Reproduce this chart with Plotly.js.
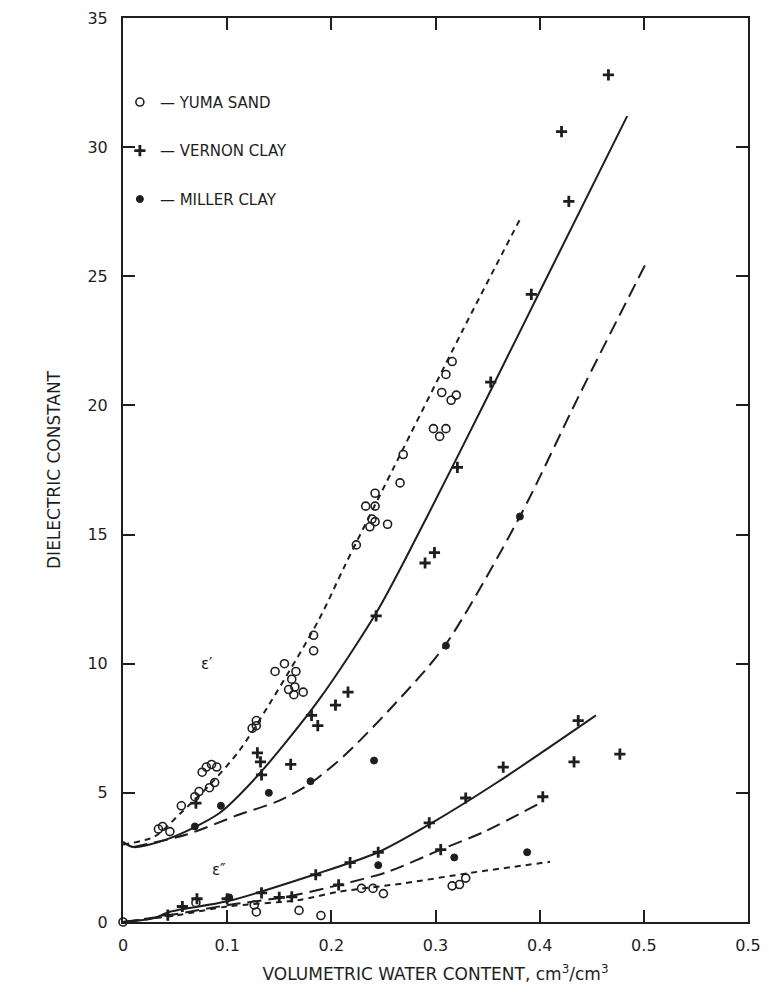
<!DOCTYPE html>
<html>
<head>
<meta charset="utf-8">
<script src="https://cdn.plot.ly/plotly-3.0.1.min.js"></script>
<style>html,body{margin:0;padding:0;background:#fff;}#chart{width:769px;height:1002px;}</style>
</head>
<body>
<div id="chart"></div>
<script>
// ---- Axis tick labels ----
const xTickVals = [0, 0.1, 0.2, 0.3, 0.4, 0.5, 0.6];
const xTickText = ["0", "0.1", "0.2", "0.3", "0.4", "0.5", "0.5"];
const yTickVals = [0, 5, 10, 15, 20, 25, 30, 35];

// ---- Series names ----
const seriesNames = ["YUMA SAND", "VERNON CLAY", "MILLER CLAY"];

// ---- Yuma sand measurements (open circles) ----
const yumaUpperX = [0.034,0.038,0.045,0.056,0.069,0.073,0.083,0.088,0.076,0.080,0.085,0.090,0.124,0.128,0.128,0.146,0.155,0.159,0.162,0.164,0.165,0.166,0.173,0.183,0.183,0.224,0.233,0.237,0.239,0.242,0.242,0.242,0.254,0.266,0.269,0.298,0.304,0.306,0.310,0.310,0.315,0.316,0.320];
const yumaUpperY = [3.6,3.7,3.5,4.5,4.85,5.05,5.2,5.4,5.8,6.0,6.1,6.0,7.5,7.6,7.8,9.7,10.0,9.0,9.4,8.8,9.1,9.7,8.9,10.5,11.1,14.6,16.1,15.3,15.6,15.5,16.1,16.6,15.4,17.0,18.1,19.1,18.8,20.5,19.1,21.2,20.2,21.7,20.4];
const yumaLowerX = [0.0,0.070,0.126,0.128,0.169,0.190,0.229,0.240,0.250,0.316,0.323,0.329];
const yumaLowerY = [0.0,0.75,0.66,0.39,0.45,0.25,1.3,1.3,1.1,1.4,1.45,1.7];

// ---- Vernon clay measurements (crosses) ----
const vernonUpperX = [0.070,0.129,0.132,0.133,0.161,0.181,0.187,0.204,0.216,0.243,0.290,0.299,0.321,0.353,0.392,0.421,0.428,0.466];
const vernonUpperY = [4.6,6.55,6.2,5.7,6.1,8.0,7.6,8.4,8.9,11.85,13.9,14.3,17.6,20.9,24.3,30.6,27.9,32.8];
const vernonLowerX = [0.043,0.057,0.071,0.100,0.133,0.150,0.162,0.185,0.207,0.218,0.245,0.294,0.305,0.329,0.365,0.403,0.433,0.437,0.477];
const vernonLowerY = [0.27,0.6,0.9,0.9,1.13,0.95,0.97,1.83,1.44,2.3,2.7,3.84,2.8,4.8,6.0,4.85,6.2,7.8,6.5];

// ---- Miller clay measurements (filled dots) ----
const millerUpperX = [0.069,0.094,0.140,0.180,0.241,0.310,0.381];
const millerUpperY = [3.7,4.5,5.0,5.45,6.25,10.7,15.7];
const millerLowerX = [0.102,0.245,0.318,0.388];
const millerLowerY = [0.95,2.2,2.5,2.7];

// ---- Fitted curves, real part (upper) ----
const yumaFitUpperX = [0,0.03,0.055,0.083,0.111,0.14,0.188,0.213,0.26,0.326,0.381];
const yumaFitUpperY = [3.0,3.3,4.2,5.3,6.6,8.4,11.7,13.8,17.6,22.9,27.2];
const vernonFitUpperX = [0,0.01,0.042,0.092,0.13,0.188,0.245,0.292,0.352,0.4,0.484];
const vernonFitUpperY = [3.1,2.9,3.2,4.2,5.7,8.6,12.1,15.7,20.5,24.4,31.2];
const millerFitUpperX = [0.01,0.062,0.111,0.15,0.181,0.214,0.26,0.309,0.381,0.438,0.502];
const millerFitUpperY = [2.9,3.4,4.15,4.7,5.4,6.5,8.4,10.7,15.7,20.4,25.5];

// ---- Fitted curves, imaginary part (lower) ----
const yumaFitLowerX = [0,0.05,0.1,0.169,0.207,0.27,0.333,0.41];
const yumaFitLowerY = [0,0.25,0.6,0.85,1.17,1.5,1.9,2.33];
const vernonFitLowerX = [0,0.03,0.045,0.1,0.181,0.245,0.295,0.359,0.454];
const vernonFitLowerY = [0,0.15,0.4,0.8,1.8,2.7,3.8,5.4,8.0];
const millerFitLowerX = [0,0.05,0.1,0.156,0.207,0.254,0.305,0.347,0.4];
const millerFitLowerY = [0,0.3,0.65,0.97,1.43,1.94,2.8,3.5,4.6];

// ---- Curve labels ----
const curveLabels = [
  {x: 0.081, y: 10.0, text: "ε′"},
  {x: 0.092, y: 2.0, text: "ε″"}
];

const ink = "#1e1e1e";
const fontFam = "DejaVu Sans, Arial, sans-serif";
const yumaDash = "6px,5px";
const millerDash = "14px,7px";

function fit(x, y, dash) {
  return {x: x, y: y, type: "scatter", mode: "lines", showlegend: false,
    hoverinfo: "skip", line: {color: ink, width: 2, dash: dash, shape: "spline", smoothing: 0.8}};
}
function pts(x, y, symbol, size, lw, name, legend, group) {
  return {x: x, y: y, type: "scatter", mode: "markers", name: name, showlegend: legend,
    legendgroup: group, cliponaxis: false,
    marker: {symbol: symbol, size: size, color: ink, line: {color: ink, width: lw}}};
}

const traces = [
  fit(yumaFitUpperX, yumaFitUpperY, yumaDash),
  fit(vernonFitUpperX, vernonFitUpperY, "solid"),
  fit(millerFitUpperX, millerFitUpperY, millerDash),
  fit(yumaFitLowerX, yumaFitLowerY, yumaDash),
  fit(vernonFitLowerX, vernonFitLowerY, "solid"),
  fit(millerFitLowerX, millerFitLowerY, millerDash),
  pts(yumaUpperX, yumaUpperY, "circle-open", 8, 1.6, "— " + seriesNames[0], true, "g1"),
  pts(yumaLowerX, yumaLowerY, "circle-open", 8, 1.6, seriesNames[0], false, "g1"),
  pts(vernonUpperX, vernonUpperY, "cross-thin-open", 8, 2.8, "— " + seriesNames[1], true, "g2"),
  pts(vernonLowerX, vernonLowerY, "cross-thin-open", 8, 2.8, seriesNames[1], false, "g2"),
  pts(millerUpperX, millerUpperY, "circle", 7, 1, "— " + seriesNames[2], true, "g3"),
  pts(millerLowerX, millerLowerY, "circle", 7, 1, seriesNames[2], false, "g3")
];

const axisCommon = {
  showgrid: false, zeroline: false, showline: true, linecolor: ink, linewidth: 2,
  ticks: "inside", ticklen: 12, tickwidth: 2, tickcolor: ink, mirror: "ticks",
  tickfont: {family: fontFam, size: 16, color: ink}
};

const layout = {
  width: 769, height: 1002,
  margin: {l: 123, r: 21, t: 18, b: 80},
  paper_bgcolor: "#fff", plot_bgcolor: "#fff",
  font: {family: fontFam, color: ink},
  xaxis: Object.assign({}, axisCommon, {
    range: [0, 0.6], tickmode: "array", tickvals: xTickVals, ticktext: xTickText,
    ticklabelstandoff: 8,
    title: {text: "VOLUMETRIC WATER CONTENT, cm<sup>3</sup>/cm<sup>3</sup>", font: {family: fontFam, size: 17, color: ink}, standoff: 14}
  }),
  yaxis: Object.assign({}, axisCommon, {
    range: [0, 35], tickmode: "array", tickvals: yTickVals,
    ticklabelstandoff: 10,
    title: {text: "DIELECTRIC CONSTANT", font: {family: fontFam, size: 17, color: ink}, standoff: 22}
  }),
  legend: {x: -0.005, y: 0.925, xanchor: "left", yanchor: "top", bgcolor: "rgba(0,0,0,0)",
    font: {family: fontFam, size: 15, color: ink}, tracegroupgap: 26, itemwidth: 30},
  annotations: curveLabels.map(l => ({x: l.x, y: l.y, xref: "x", yref: "y", text: l.text,
    showarrow: false, font: {family: fontFam, size: 15, color: ink}}))
};

Plotly.newPlot("chart", traces, layout, {displayModeBar: false, staticPlot: true});
</script>
</body>
</html>
